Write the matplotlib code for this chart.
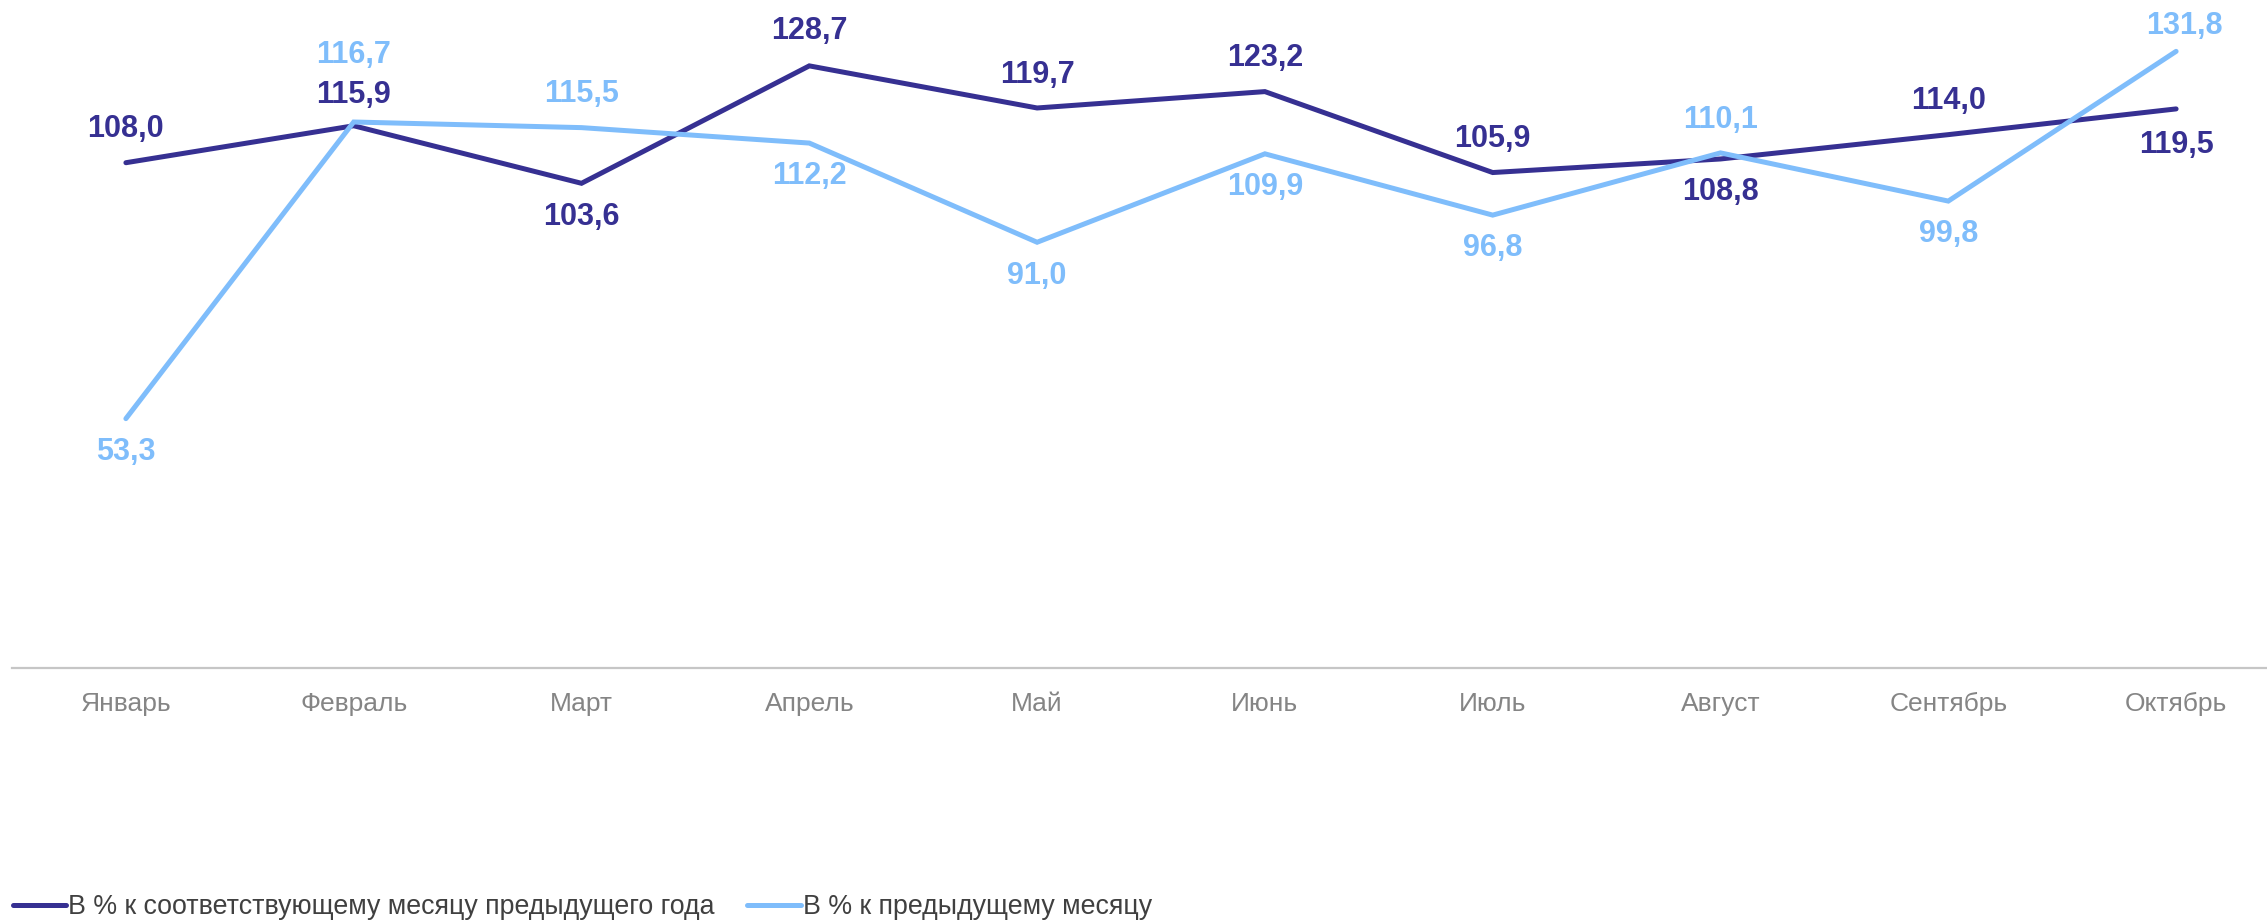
import matplotlib
matplotlib.use("Agg")
import matplotlib.pyplot as plt

months = ["Январь", "Февраль", "Март", "Апрель", "Май", "Июнь",
          "Июль", "Август", "Сентябрь", "Октябрь"]
yoy = [108.0, 115.9, 103.6, 128.7, 119.7, 123.2, 105.9, 108.8, 114.0, 119.5]
mom = [53.3, 116.7, 115.5, 112.2, 91.0, 109.9, 96.8, 110.1, 99.8, 131.8]
series_names = ["В % к соответствующему месяцу предыдущего года",
                "В % к предыдущему месяцу"]
# label vertical offsets in points (+ above, - below)
yoy_off = [24, 22, -24, 25, 24, 24, 24, -24, 24, -26]
mom_off = [-24, 48, 24, -24, -24, -24, -24, 24, -24, 18]
mom_dx = [0, 0, 0, 0, 0, 0, 0, 0, 0, 6]

plt.rcParams['font.family'] = ['Liberation Sans', 'DejaVu Sans']

DARK = "#363092"
LIGHT = "#7FBDFB"

W, H = 2267, 921
fig = plt.figure(figsize=(W / 100, H / 100), dpi=100)
ax = fig.add_axes([12 / W, 1 - 668 / H, 2278 / W, (668 - 13) / H])

x = list(range(len(months)))
l1, = ax.plot(x, yoy, color=DARK, lw=3.6, solid_joinstyle='miter',
              solid_capstyle='round', label=series_names[0], zorder=3)
l2, = ax.plot(x, mom, color=LIGHT, lw=3.6, solid_joinstyle='miter',
              solid_capstyle='round', label=series_names[1], zorder=3)

for xi, v, o in zip(x, yoy, yoy_off):
    ax.annotate(f"{v:.1f}".replace(".", ","), (xi, v), xytext=(0, o),
                textcoords='offset points', ha='center', va='center',
                fontsize=22, fontweight='bold', color=DARK, zorder=4)
for xi, v, o, dx in zip(x, mom, mom_off, mom_dx):
    ax.annotate(f"{v:.1f}".replace(".", ","), (xi, v), xytext=(dx, o),
                textcoords='offset points', ha='center', va='center',
                fontsize=22, fontweight='bold', color=LIGHT, zorder=4)

ax.set_xlim(-0.5, len(months) - 0.5)
ax.set_ylim(0, 140)
ax.set_xticks(x)
ax.set_xticklabels(months, fontsize=19, color="#858585")
ax.tick_params(axis='x', length=0, pad=17)
ax.set_yticks([])
for s in ['top', 'right', 'left']:
    ax.spines[s].set_visible(False)
ax.spines['bottom'].set_color("#C6C6C6")
ax.spines['bottom'].set_linewidth(1.6)
ax.patch.set_alpha(0)

fig.legend(handles=[l1, l2], loc='lower left', bbox_to_anchor=(0.002, -0.008),
           ncol=2, frameon=False, fontsize=19.3, labelcolor="#404040",
           handlelength=2.0, handletextpad=0.08, columnspacing=1.2,
           borderpad=0.2, borderaxespad=0.1)

fig.savefig("out.png", dpi=100)
